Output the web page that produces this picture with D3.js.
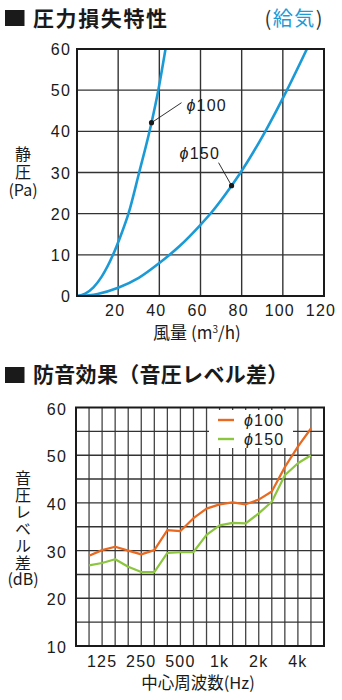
<!DOCTYPE html>
<html>
<head>
<meta charset="utf-8">
<script src="https://cdn.jsdelivr.net/npm/d3@7"></script>
<style>
  html, body { margin: 0; padding: 0; background: #fff; }
  svg { display: block; }
  .num { font-family: "Liberation Sans", Arial, sans-serif; font-size: 16px; letter-spacing: 1.2px; fill: #1a1a1a; }
  .jp { font-family: "Noto Sans CJK JP", sans-serif; fill: #1a1a1a; }
  .vert { writing-mode: vertical-rl; text-orientation: upright; }
</style>
</head>
<body>
<script>
// ---- Pressure loss characteristics (static pressure vs. airflow) ----
const flowTicks = [20, 40, 60, 80, 100, 120];
const pressureTicks = [0, 10, 20, 30, 40, 50, 60];
const phi100Flow     = [0, 4, 8, 12, 17.5, 21.5, 25, 30.2, 36.2, 39.5, 43];
const phi100Pressure = [0, 0.6, 2.1, 4.7, 10, 15, 20, 30, 42.1, 50, 60];
const phi150Flow     = [0, 10, 20, 30, 40, 50, 60, 65, 75.1, 79.5, 91.5, 102, 111.7];
const phi150Pressure = [0, 0.5, 2.0, 4.4, 8.0, 12.2, 17.3, 20.1, 26.8, 30, 40, 50, 60];
// marked operating points (index into the series above)
const phi100Marker = 8;
const phi150Marker = 8;

// ---- Sound insulation (sound pressure level difference) ----
const bands = ["80", "100", "125", "160", "200", "250", "315", "400", "500", "630",
               "800", "1k", "1.25k", "1.6k", "2k", "2.5k", "3.15k", "4k", "5k", "6.3k"];
const bandTicks = ["125", "250", "500", "1k", "2k", "4k"];
const measuredBands = ["100", "125", "160", "200", "250", "315", "400", "500", "630",
                       "800", "1k", "1.25k", "1.6k", "2k", "2.5k", "3.15k", "4k", "5k"];
const phi100Level = [28.9, 30.1, 30.8, 30.0, 29.2, 30.1, 34.3, 34.1, 36.8, 38.8,
                     39.7, 40.1, 39.7, 40.7, 42.4, 47.5, 51.8, 55.6];
const phi150Level = [26.9, 27.4, 28.2, 26.6, 25.5, 25.5, 29.5, 29.7, 29.7, 33.3,
                     35.3, 35.8, 35.7, 37.8, 40.25, 45.8, 48.3, 50.0];
const levelTicks = [10, 20, 30, 40, 50, 60];
const levelGrid = [15, 20, 25, 30, 35, 40, 45, 50, 55];

const BLUE = "#1c9ad6", ORANGE = "#e8691f", GREEN = "#8cc63e", INK = "#1a1a1a";

const svg = d3.select("body").append("svg").attr("width", 342).attr("height", 700);
svg.append("rect").attr("width", 342).attr("height", 700).attr("fill", "#fff");

// diameter label: italic phi followed by the size
function phiLabel(sel, size) {
  sel.append("tspan").attr("font-style", "italic").text("ϕ");
  sel.append("tspan").text(size);
}

// ================= Top chart =================
svg.append("rect").attr("x", 5).attr("y", 10).attr("width", 19.5).attr("height", 16).attr("fill", INK);
svg.append("text").attr("class", "jp").attr("x", 33).attr("y", 25.5)
  .attr("font-size", 21).attr("font-weight", 700).attr("letter-spacing", 1.6)
  .text("圧力損失特性");
const supply = svg.append("text").attr("class", "jp").attr("x", 324).attr("y", 25.5)
  .attr("text-anchor", "end").attr("font-size", 20).attr("letter-spacing", 1.5);
supply.append("tspan").attr("fill", "#333").text("(");
supply.append("tspan").attr("fill", BLUE).text("給気");
supply.append("tspan").attr("fill", "#333").text(")");

const x1 = d3.scaleLinear().domain([0, 120]).range([77, 324]);
const y1 = d3.scaleLinear().domain([0, 60]).range([296, 49]);

const g1 = svg.append("g");
g1.selectAll("line.vg").data(flowTicks.filter(d => d < 120)).join("line")
  .attr("x1", d => x1(d)).attr("x2", d => x1(d)).attr("y1", y1(0)).attr("y2", y1(60))
  .attr("stroke", "#333").attr("stroke-width", 1.4);
g1.selectAll("line.hg").data(pressureTicks.filter(d => d > 0 && d < 60)).join("line")
  .attr("x1", x1(0)).attr("x2", x1(120)).attr("y1", d => y1(d)).attr("y2", d => y1(d))
  .attr("stroke", "#333").attr("stroke-width", 1.4);

svg.append("clipPath").attr("id", "clip1").append("rect")
  .attr("x", x1(0)).attr("y", y1(60)).attr("width", x1(120) - x1(0)).attr("height", y1(0) - y1(60));

const line1 = d3.line().x(d => x1(d[0])).y(d => y1(d[1])).curve(d3.curveMonotoneX);
const s100 = phi100Flow.map((q, i) => [q, phi100Pressure[i]]);
const s150 = phi150Flow.map((q, i) => [q, phi150Pressure[i]]);
[s100, s150].forEach(s => {
  g1.append("path").attr("d", line1(s)).attr("fill", "none").attr("stroke", BLUE)
    .attr("stroke-width", 2.6).attr("clip-path", "url(#clip1)");
});

g1.append("rect").attr("x", x1(0)).attr("y", y1(60)).attr("width", x1(120) - x1(0))
  .attr("height", y1(0) - y1(60)).attr("fill", "none").attr("stroke", INK).attr("stroke-width", 2);

// annotations
const m100 = s100[phi100Marker], m150 = s150[phi150Marker];
const p100 = [x1(m100[0]), y1(m100[1])], p150 = [x1(m150[0]), y1(m150[1])];
g1.append("line").attr("x1", p100[0]).attr("y1", p100[1]).attr("x2", p100[0] + 30).attr("y2", p100[1] - 20)
  .attr("stroke", INK).attr("stroke-width", 0.9);
g1.append("line").attr("x1", p150[0]).attr("y1", p150[1]).attr("x2", p150[0] - 13).attr("y2", p150[1] - 23)
  .attr("stroke", INK).attr("stroke-width", 0.9);
g1.selectAll("circle.mk").data([p100, p150]).join("circle")
  .attr("cx", d => d[0]).attr("cy", d => d[1]).attr("r", 2.6).attr("fill", INK);
phiLabel(g1.append("text").attr("class", "num").attr("x", p100[0] + 35).attr("y", p100[1] - 12), "100");
phiLabel(g1.append("text").attr("class", "num").attr("x", p150[0] - 52).attr("y", p150[1] - 27), "150");

// axes labels
g1.selectAll("text.yl").data(pressureTicks).join("text").attr("class", "num")
  .attr("x", 71).attr("y", d => y1(d) + 6).attr("text-anchor", "end").text(d => d);
g1.selectAll("text.xl").data(flowTicks).join("text").attr("class", "num")
  .attr("x", d => x1(d) - 3).attr("y", 315.5).attr("text-anchor", "middle").text(d => d);

const xt1 = g1.append("text").attr("class", "jp").attr("x", 153).attr("y", 339).attr("font-size", 17);
xt1.append("tspan").text("風量");
xt1.append("tspan").attr("dx", 4).text("(m");
xt1.append("tspan").attr("font-size", 10).attr("dy", -6).text("3");
xt1.append("tspan").attr("dy", 6).text("/h)");

// stacked vertical axis title
g1.append("text").attr("class", "jp vert").attr("font-size", 16).attr("letter-spacing", 2)
  .attr("x", 23).attr("y", 146).text("静圧");
g1.append("text").attr("class", "jp").attr("font-size", 16).attr("text-anchor", "middle")
  .attr("x", 23).attr("y", 196).text("(Pa)");

// ================= Bottom chart =================
svg.append("rect").attr("x", 5).attr("y", 367).attr("width", 19.5).attr("height", 16).attr("fill", INK);
svg.append("text").attr("class", "jp").attr("x", 33).attr("y", 382)
  .attr("font-size", 21).attr("font-weight", 700).attr("letter-spacing", 0.3)
  .text("防音効果（音圧レベル差）");

const x2 = d3.scalePoint().domain(bands).range([76, 324]);
const y2 = d3.scaleLinear().domain([10, 60]).range([646, 407.5]);

const g2 = svg.append("g");
g2.selectAll("line.vg").data(bands.slice(1, -1)).join("line")
  .attr("x1", d => x2(d)).attr("x2", d => x2(d)).attr("y1", y2(10)).attr("y2", y2(60))
  .attr("stroke", "#444").attr("stroke-width", 1.3);
g2.selectAll("line.hg").data(levelGrid).join("line")
  .attr("x1", x2(bands[0])).attr("x2", x2(bands[bands.length - 1]))
  .attr("y1", d => y2(d)).attr("y2", d => y2(d))
  .attr("stroke", "#333").attr("stroke-width", 1.4);

const line2 = d3.line().x(d => x2(d[0])).y(d => y2(d[1]));
[[phi150Level, GREEN], [phi100Level, ORANGE]].forEach(([vals, c]) => {
  g2.append("path").attr("d", line2(measuredBands.map((b, i) => [b, vals[i]])))
    .attr("fill", "none").attr("stroke", c).attr("stroke-width", 2.2).attr("stroke-linejoin", "round");
});

g2.append("rect").attr("x", x2(bands[0])).attr("y", y2(60))
  .attr("width", x2(bands[bands.length - 1]) - x2(bands[0])).attr("height", y2(10) - y2(60))
  .attr("fill", "none").attr("stroke", INK).attr("stroke-width", 2);

// legend
const lg = g2.append("g");
lg.append("rect").attr("x", 209).attr("y", 410).attr("width", 84).attr("height", 38).attr("fill", "#fff");
[["100", ORANGE, 420], ["150", GREEN, 439]].forEach(([t, c, y]) => {
  lg.append("line").attr("x1", 218).attr("x2", 234).attr("y1", y).attr("y2", y)
    .attr("stroke", c).attr("stroke-width", 2.4);
  phiLabel(lg.append("text").attr("class", "num").attr("x", 244).attr("y", y + 6), t);
});

g2.selectAll("text.yl").data(levelTicks).join("text").attr("class", "num")
  .attr("x", 67).attr("y", d => y2(d) + 7).attr("text-anchor", "end").text(d => d);
g2.selectAll("text.xl").data(bandTicks).join("text").attr("class", "num")
  .attr("x", d => x2(d)).attr("y", 667).attr("text-anchor", "middle").text(d => d);

g2.append("text").attr("class", "jp").attr("x", 198).attr("y", 689).attr("font-size", 16.5)
  .attr("text-anchor", "middle").text("中心周波数(Hz)");

g2.append("text").attr("class", "jp vert").attr("font-size", 16).attr("letter-spacing", 1)
  .attr("x", 23).attr("y", 470).text("音圧レベル差");
g2.append("text").attr("class", "jp").attr("font-size", 16).attr("text-anchor", "middle")
  .attr("x", 23).attr("y", 585).text("(dB)");
</script>
</body>
</html>
